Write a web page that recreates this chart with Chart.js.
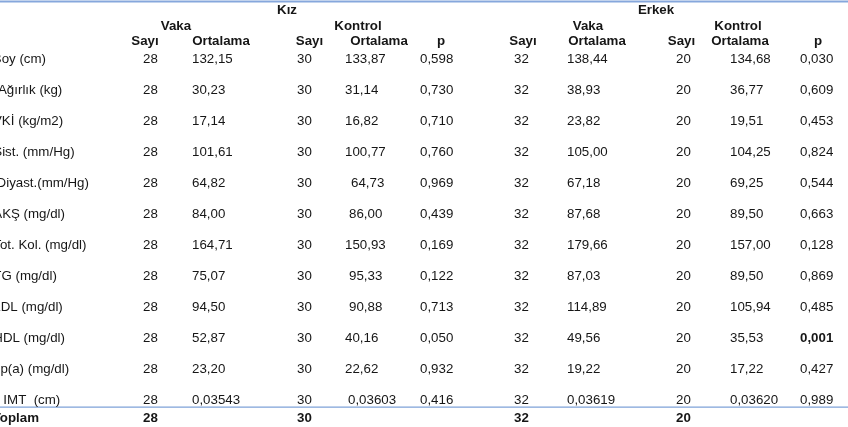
<!DOCTYPE html>
<html>
<head>
<meta charset="utf-8">
<script src="https://cdn.jsdelivr.net/npm/chart.js@4"></script>
<style>
  html, body { margin: 0; padding: 0; background: #fff; }
  #wrap { width: 848px; height: 427px; position: relative; }
</style>
</head>
<body>
<div id="wrap"><canvas id="tbl"></canvas></div>
<script>
/* ========= Data ========= */
const rowLabels = ['Boy (cm)', 'Ağırlık (kg)', 'VKİ (kg/m2)', 'Sist. (mm/Hg)', 'Diyast.(mm/Hg)', 'AKŞ (mg/dl)',
  'Tot. Kol. (mg/dl)', 'TG (mg/dl)', 'LDL (mg/dl)', 'HDL (mg/dl)', 'Lp(a) (mg/dl)', 'K IMT  (cm)'];

const kizVakaN      = 28;
const kizKontrolN   = 30;
const erkekVakaN    = 32;
const erkekKontrolN = 20;

const kizVakaMean      = [132.15, 30.23, 17.14, 101.61, 64.82, 84.00, 164.71, 75.07, 94.50, 52.87, 23.20, 0.03543];
const kizKontrolMean   = [133.87, 31.14, 16.82, 100.77, 64.73, 86.00, 150.93, 95.33, 90.88, 40.16, 22.62, 0.03603];
const kizP             = [0.598, 0.730, 0.710, 0.760, 0.969, 0.439, 0.169, 0.122, 0.713, 0.050, 0.932, 0.416];
const erkekVakaMean    = [138.44, 38.93, 23.82, 105.00, 67.18, 87.68, 179.66, 87.03, 114.89, 49.56, 19.22, 0.03619];
const erkekKontrolMean = [134.68, 36.77, 19.51, 104.25, 69.25, 89.50, 157.00, 89.50, 105.94, 35.53, 17.22, 0.03620];
const erkekP           = [0.030, 0.609, 0.453, 0.824, 0.544, 0.663, 0.128, 0.869, 0.485, 0.001, 0.427, 0.989];

const groupLabels = ['Kız', 'Erkek'];
const subLabels   = ['Vaka', 'Kontrol'];
const colLabels   = ['Sayı', 'Ortalama', 'p'];
const totalLabel  = 'Toplam';

/* ========= Layout (scale units) ========= */
// x: column left edges, y: row index (data rows 0..11)
const X = { label: -6.7, kvN: 143, kvM: 192, kkN: 297, kkM: 345, kP: 420, evN: 514, evM: 567, ekN: 676, ekM: 730, eP: 800 };
// the label column is cut at the left edge, not every row by the same amount
const labelShift = [-0.5, 4.7, -0.3, 0, 3.3, 0, 0, 0, 0, 0, -0.3, -2.5];
// the Kız Kontrol means are not all flush in the source
const kkMShift   = [0, 0, 0, 0, 6, 4, 0, 4, 4, 0, 0, 3];
const HEAD_Y = [-1.56, -1.06, -0.58];
const TOTAL_Y = 11.58;
const LINE_TOP = -1.82;
const LINE_BOT = 11.26;

const FONT = '"Liberation Sans", Arial, sans-serif';
const SIZE = 13.3;
const INK  = '#161616';

const fmt = (v, d) => v.toFixed(d).replace('.', ',');
const meanFmt = (v) => fmt(v, v < 1 ? 5 : 2);

/* ========= Plugin: draws the cells ========= */
const tablePlugin = {
  id: 'tableCells',
  afterDraw(chart) {
    const { ctx, scales: { x, y }, chartArea } = chart;
    const px = v => x.getPixelForValue(v);
    const py = v => y.getPixelForValue(v) + SIZE * 0.36;

    const text = (str, xv, yv, bold, align) => {
      ctx.font = (bold ? 'bold ' : '') + SIZE + 'px ' + FONT;
      ctx.textAlign = align || 'left';
      ctx.textBaseline = 'alphabetic';
      ctx.fillStyle = INK;
      ctx.fillText(str, px(xv), py(yv));
    };

    ctx.save();

    // rules
    ctx.strokeStyle = '#86a7dc';
    ctx.lineWidth = 2;
    ctx.beginPath();
    ctx.moveTo(chartArea.left, y.getPixelForValue(LINE_TOP));
    ctx.lineTo(chartArea.right, y.getPixelForValue(LINE_TOP));
    ctx.stroke();
    ctx.strokeStyle = '#7ea2d8';
    ctx.lineWidth = 1.3;
    ctx.beginPath();
    ctx.moveTo(chartArea.left, y.getPixelForValue(LINE_BOT));
    ctx.lineTo(chartArea.right, y.getPixelForValue(LINE_BOT));
    ctx.stroke();

    // header rows
    text(groupLabels[0], 287, HEAD_Y[0], true, 'center');
    text(groupLabels[1], 656, HEAD_Y[0], true, 'center');
    text(subLabels[0], 176, HEAD_Y[1], true, 'center');
    text(subLabels[1], 358, HEAD_Y[1], true, 'center');
    text(subLabels[0], 588, HEAD_Y[1], true, 'center');
    text(subLabels[1], 738, HEAD_Y[1], true, 'center');
    [[145, 0], [221, 1], [309.5, 0], [379, 1], [441, 2],
     [523, 0], [597, 1], [681.5, 0], [740, 1], [818, 2]].forEach(([cx, i]) =>
      text(colLabels[i], cx, HEAD_Y[2], true, 'center'));

    // body
    rowLabels.forEach((lab, i) => {
      text(lab, X.label + labelShift[i], i);
      text(String(kizVakaN), X.kvN, i);
      text(meanFmt(kizVakaMean[i]), X.kvM, i);
      text(String(kizKontrolN), X.kkN, i);
      text(meanFmt(kizKontrolMean[i]), X.kkM + kkMShift[i], i);
      text(fmt(kizP[i], 3), X.kP, i, kizP[i] < 0.01);
      text(String(erkekVakaN), X.evN, i);
      text(meanFmt(erkekVakaMean[i]), X.evM, i);
      text(String(erkekKontrolN), X.ekN, i);
      text(meanFmt(erkekKontrolMean[i]), X.ekM, i);
      text(fmt(erkekP[i], 3), X.eP, i, erkekP[i] < 0.01);
    });

    // total row
    text(totalLabel, X.label - 0.6, TOTAL_Y, true);
    text(String(kizVakaN), X.kvN, TOTAL_Y, true);
    text(String(kizKontrolN), X.kkN, TOTAL_Y, true);
    text(String(erkekVakaN), X.evN, TOTAL_Y, true);
    text(String(erkekKontrolN), X.ekN, TOTAL_Y, true);

    ctx.restore();
  }
};

/* ========= Chart ========= */
// one invisible point per row so the rows live on the y scale
const rowPoints = rowLabels.map((_, i) => ({ x: X.kvN, y: i }));

new Chart(document.getElementById('tbl'), {
  type: 'scatter',
  data: { datasets: [{ data: rowPoints, pointRadius: 0, showLine: false }] },
  options: {
    responsive: true,
    maintainAspectRatio: false,
    animation: false,
    events: [],
    layout: { padding: 0 },
    plugins: { legend: { display: false }, tooltip: { enabled: false } },
    scales: {
      x: { type: 'linear', min: 0, max: 848, display: false },
      y: { type: 'linear', min: -1.871, max: 11.903, reverse: true, display: false }
    }
  },
  plugins: [tablePlugin]
});
</script>
</body>
</html>
